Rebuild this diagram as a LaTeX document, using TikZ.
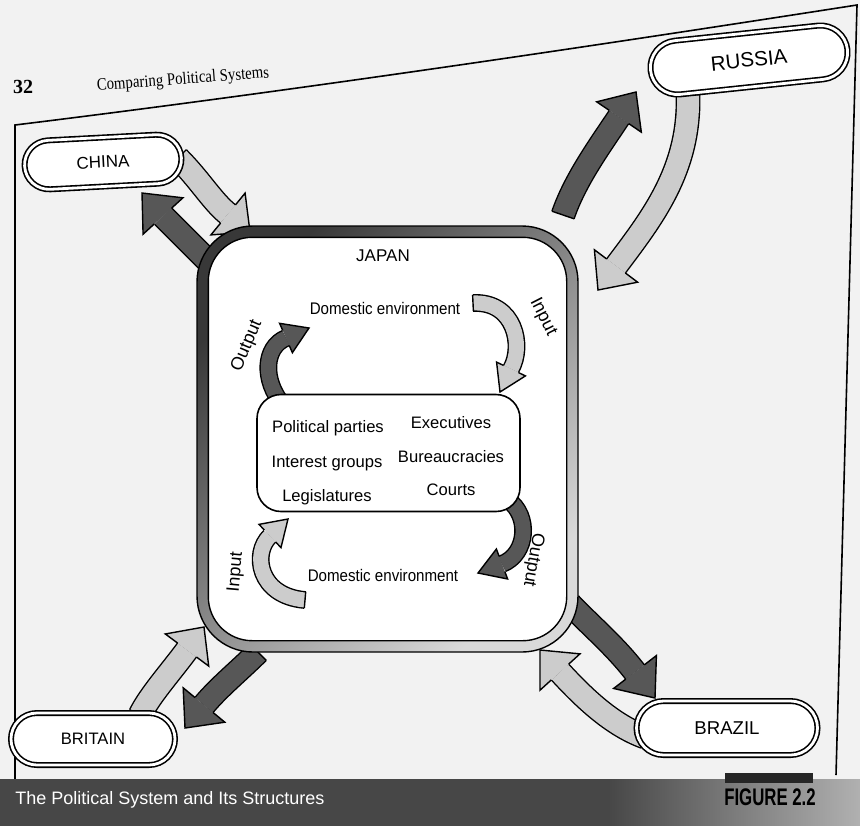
\documentclass[tikz,border=0pt]{standalone}
\usepackage{fontspec}
\usepackage{graphicx}
\setmainfont{Liberation Sans}
\newfontfamily\serifface{Liberation Serif}
\usetikzlibrary{calc,shapes.misc}
\pgfdeclarelayer{bg}
\pgfdeclarelayer{arr}
\pgfdeclarelayer{mid}
\pgfdeclarelayer{arrin}
\pgfsetlayers{bg,arr,mid,arrin,main}
\colorlet{darkarrow}{black!66}
\colorlet{lightarrow}{black!20}
\newcommand{\fsz}[1]{\fontsize{#1}{#1}\selectfont}
% #1 colour, #2 half body width, #3 half head width, #4 start, #5 control 1, #6 control 2, #7 base, #8 tip
\newcommand{\blockarrow}[8]{%
  \draw[black, line width=2*#2+1.4pt] (#4) .. controls (#5) and (#6) .. (#7);
  \draw[#1, line width=2*#2] (#4) .. controls (#5) and (#6) .. (#7);
  \draw[black, line width=0.7pt] ($(#4)!#2+0.35pt!90:(#5)$) -- ($(#4)!#2+0.35pt!-90:(#5)$);
  \fill[#1] ($(#7)!#3!90:(#8)$) -- (#8) -- ($(#7)!#3!-90:(#8)$) -- cycle;
  \draw[black, line width=0.7pt, line join=miter]
    ($(#7)!#2+0.35pt!90:(#8)$) -- ($(#7)!#3!90:(#8)$) -- (#8)
    -- ($(#7)!#3!-90:(#8)$) -- ($(#7)!#2+0.35pt!-90:(#8)$);
}
\tikzset{
  country/.style={rounded rectangle, draw=black, line width=0.8pt, double=white,
    double distance=1.4pt, fill=white, inner sep=0pt},
  lbl/.style={font=\fsz{8.3}, inner sep=0pt},
  env/.style={inner sep=0pt},
  io/.style={font=\fsz{9}, inner sep=0pt},
}
\begin{document}
\begin{tikzpicture}[x=0.5pt,y=-0.5pt]
\useasboundingbox (0,0) rectangle (860,825);
\begin{pgfonlayer}{bg}
  \fill[black!5] (-5,-5) rectangle (865,830);
  \draw[line width=0.8pt] (15,779) -- (15,125) .. controls (300,90) and (600,45) .. (857,5) -- (836,775);
  \fill[black!72] (-5,779) rectangle (610,830);
  \shade[left color=black!72, right color=black!30] (609,779) rectangle (865,830);
  \fill[black!85] (725,773) rectangle (813,783);
\end{pgfonlayer}

% page heading
\node[font=\serifface\bfseries\fsz{10}, inner sep=0pt] (pagenum) at (23,87) {32};
\node[rotate=4.3, inner sep=0pt] (heading) at (183,80) {\scalebox{0.85}[1]{\serifface\fsz{8.7}Comparing Political Systems}};

% countries
\node[country, minimum width=78.5pt, minimum height=24.5pt, rotate=3] (china) at (103,162) {\fsz{8.5}CHINA};
\node[country, minimum width=99pt, minimum height=27pt, rotate=6] (russia) at (749,60) {\fsz{10.3}RUSSIA};
\node[country, minimum width=82pt, minimum height=26pt] (britain) at (93,739) {\fsz{8.3}BRITAIN};
\node[country, minimum width=90.5pt, minimum height=27pt] (brazil) at (727,728) {\fsz{9.3}BRAZIL};

% Japan frame
\begin{pgfonlayer}{mid}
  \node[draw, line width=0.7pt, rounded corners=28pt, minimum width=190.5pt, minimum height=213pt,
        top color=black!78, bottom color=black!15, shading angle=45, inner sep=0pt] (japan) at (387.5,439) {};
  \draw[line width=0.7pt, fill=white, rounded corners=22pt]
    ($(japan.north west)+(12,12)$) rectangle ($(japan.south east)+(-12,-12)$);
\end{pgfonlayer}

% arrow end points
\coordinate (cdS) at (215,268); \coordinate (cdB) at (163,216); \coordinate (cdT) at (142,193);
\coordinate (clS) at (178,158); \coordinate (clB) at (228,214); \coordinate (clT) at (250,232);
\coordinate (rdS) at (563,215); \coordinate (rdB) at (619,117); \coordinate (rdT) at (636,92);
\coordinate (rlS) at (688,95);  \coordinate (rlB) at (616,266); \coordinate (rlT) at (598,290);
\coordinate (blS) at (140,715); \coordinate (blB) at (187,650); \coordinate (blT) at (204,627);
\coordinate (bdS) at (258,652); \coordinate (bdB) at (204,705); \coordinate (bdT) at (185,728);
\coordinate (zdS) at (570,604); \coordinate (zdB) at (635,672); \coordinate (zdT) at (655,698);
\coordinate (zlS) at (645,737); \coordinate (zlB) at (560,672); \coordinate (zlT) at (540,650);

\begin{pgfonlayer}{arr}
  \blockarrow{darkarrow}{5.5pt}{13.5pt}{cdS}{197,250}{181,234}{cdB}{cdT}
  \blockarrow{lightarrow}{5.5pt}{13.5pt}{clS}{200,180}{212,201}{clB}{clT}
  \blockarrow{darkarrow}{5.5pt}{13.5pt}{rdS}{575,180}{599,147}{rdB}{rdT}
  \blockarrow{lightarrow}{5.5pt}{13.5pt}{rlS}{690,170}{652,218}{rlB}{rlT}
  \blockarrow{lightarrow}{5.5pt}{13.5pt}{blS}{150,695}{170,673}{blB}{blT}
  \blockarrow{darkarrow}{5.5pt}{13.5pt}{bdS}{240,670}{219,687}{bdB}{bdT}
  \blockarrow{darkarrow}{5.5pt}{13.5pt}{zdS}{590,625}{615,646}{zdB}{zdT}
  \blockarrow{lightarrow}{5.5pt}{13.5pt}{zlS}{612,725}{584,698}{zlB}{zlT}
\end{pgfonlayer}

% internal arrows
\coordinate (ti0) at (473,303); \coordinate (tiB) at (511,369); \coordinate (tiT) at (500,392);
\coordinate (to0) at (283,405); \coordinate (toB) at (286,338); \coordinate (toT) at (309,328);
\coordinate (bi0) at (305,600); \coordinate (biB) at (270,536); \coordinate (biT) at (288,519);
\coordinate (bo0) at (508,500); \coordinate (boB) at (502,564); \coordinate (boT) at (478,573);
\begin{pgfonlayer}{arrin}
  \blockarrow{lightarrow}{3.75pt}{8pt}{ti0}{515,301}{524,346}{tiB}{tiT}
  \blockarrow{darkarrow}{3.75pt}{8pt}{to0}{262,380}{264,347}{toB}{toT}
  \blockarrow{lightarrow}{3.75pt}{8pt}{bi0}{258,596}{252,553}{biB}{biT}
  \blockarrow{darkarrow}{3.75pt}{8pt}{bo0}{530,515}{528,554}{boB}{boT}
\end{pgfonlayer}

% inner box
\node[draw, line width=0.8pt, fill=white, rounded corners=12pt, minimum width=131.5pt,
      minimum height=58.5pt] (core) at (388.5,453) {};
\node[lbl] (pp) at (328,428) {Political parties};
\node[lbl] (ex) at (451,423) {Executives};
\node[lbl] (ig) at (327,463) {Interest groups};
\node[lbl] (bu) at (451,457) {Bureaucracies};
\node[lbl] (le) at (327,497) {Legislatures};
\node[lbl] (co) at (451,490) {Courts};

\node[font=\fsz{8.5}, inner sep=0pt] (jp) at (383,256) {JAPAN};
\node[env] (denvtop) at (385,308) {\scalebox{0.9}[1]{\fsz{8.4}Domestic environment}};
\node[env] (denvbot) at (383,575) {\scalebox{0.9}[1]{\fsz{8.4}Domestic environment}};
\node[io, rotate=67] (outtl) at (247,346) {Output};
\node[io, rotate=-63] (intr) at (543,317) {Input};
\node[io, rotate=85] (inbl) at (236,572) {Input};
\node[io, rotate=-100] (outbr) at (533,560) {Output};

% banner text
\node[anchor=west, text=white, font=\fsz{9}, inner sep=0pt] (title) at (15,800) {The Political System and Its Structures};
\node[font=\bfseries\fsz{12}, inner sep=0pt] (fig) at (770,797) {\scalebox{0.7}[1]{FIGURE 2.2}};
\end{tikzpicture}
\end{document}
